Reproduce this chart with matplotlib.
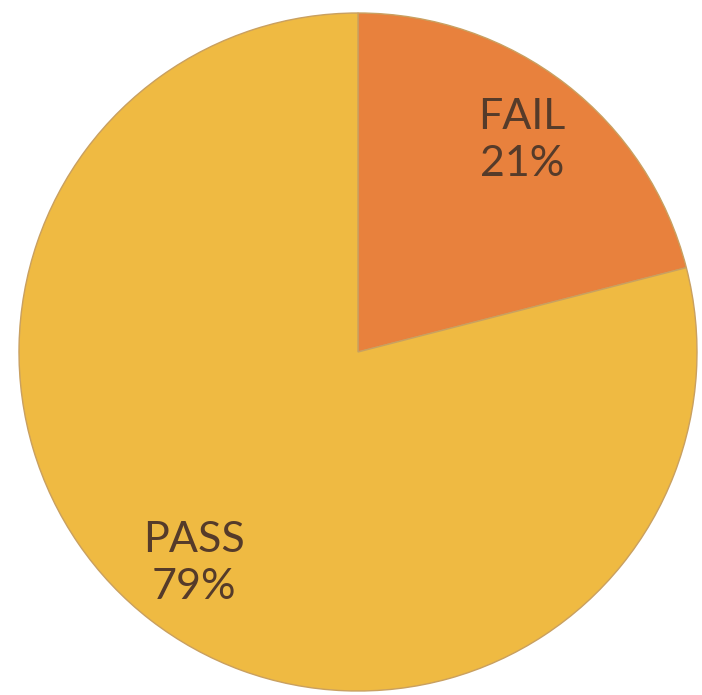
import matplotlib.pyplot as plt

labels = ['FAIL', 'PASS']
shares = [21, 79]
colors = ['#E8813D', '#EFBA42']

fig = plt.figure(figsize=(7.02, 6.95), dpi=100)
ax = fig.add_axes([0, 0, 1, 1])

wedges, texts = ax.pie(
    shares,
    labels=[f'{l}\n{s}%' for l, s in zip(labels, shares)],
    colors=colors,
    startangle=90,
    counterclock=False,
    center=(358, 343),
    radius=339,
    labeldistance=0.79,
    wedgeprops=dict(edgecolor='#C9A060', linewidth=1.0),
    textprops=dict(fontsize=31, color='#553B2A', family=['Lato', 'DejaVu Sans'],
                   ha='center', va='center', linespacing=1.3),
    frame=True,
)
ax.axis('off')
ax.set_xlim(0, 702)
ax.set_ylim(0, 695)
ax.set_aspect('equal')

fig.savefig('out.png', dpi=100)
